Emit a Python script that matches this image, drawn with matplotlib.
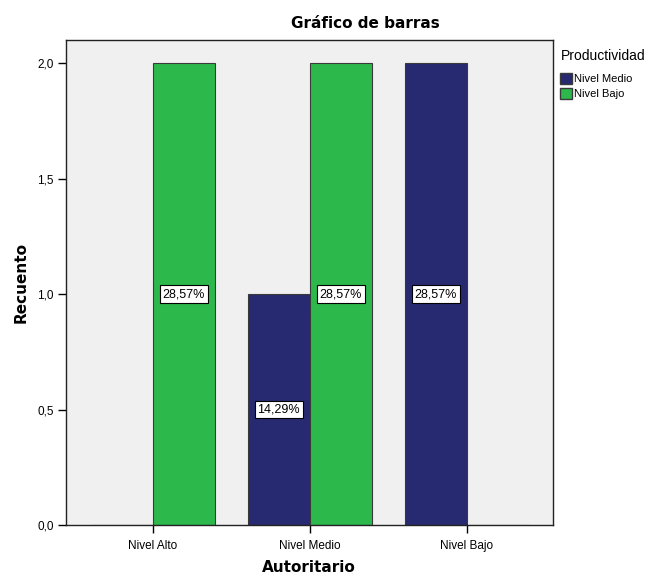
import matplotlib
matplotlib.use("Agg")
import matplotlib.pyplot as plt
import numpy as np
from matplotlib.patches import Patch

categorias = ["Nivel Alto", "Nivel Medio", "Nivel Bajo"]
nivel_medio = [0, 1, 2]
nivel_bajo = [2, 2, 0]
etiq_medio = ["", "14,29%", "28,57%"]
etiq_bajo = ["28,57%", "28,57%", ""]
y_ticks = [0.0, 0.5, 1.0, 1.5, 2.0]

color_medio = "#272a70"
color_bajo = "#2db84c"

plt.rcParams["font.family"] = ["Liberation Sans", "DejaVu Sans"]

fig = plt.figure(figsize=(6.54, 5.77), dpi=100)
ax = fig.add_axes([66 / 654, 52 / 577, 487 / 654, 485 / 577])
ax.set_facecolor("#f0f0f0")

x = np.arange(len(categorias))
w = 0.395
b1 = ax.bar(x - w / 2, nivel_medio, w, color=color_medio, edgecolor="#3a3a3a", linewidth=0.8)
b2 = ax.bar(x + w / 2, nivel_bajo, w, color=color_bajo, edgecolor="#3a3a3a", linewidth=0.8)

caja = dict(boxstyle="square,pad=0.22", facecolor="white", edgecolor="black", linewidth=0.8)
for bars, vals, etiqs in [(b1, nivel_medio, etiq_medio), (b2, nivel_bajo, etiq_bajo)]:
    for rect, v, t in zip(bars, vals, etiqs):
        if v > 0:
            ax.text(rect.get_x() + rect.get_width() / 2, v / 2, t, ha="center", va="center",
                    fontsize=9, bbox=caja)

ax.set_xlim(-0.552, 2.55)
ax.set_ylim(0, 2.1)
ax.set_xticks(x)
ax.set_xticklabels(categorias, fontsize=8.5, va="baseline")
ax.set_yticks(y_ticks)
ax.set_yticklabels([f"{t:.1f}".replace(".", ",") for t in y_ticks], fontsize=8.5)
ax.tick_params(direction="out", length=6, width=1, colors="black", pad=3)
ax.tick_params(axis="x", pad=11)
for s in ax.spines.values():
    s.set_linewidth(1)
    s.set_color("#222222")

# etiquetas de ejes colocadas a mano
fig.text(309 / 654, 1 - 567 / 577, "Autoritario", ha="center", va="center",
         fontsize=11, fontweight="bold", family="DejaVu Sans")
ax.set_ylabel("Recuento", fontsize=11, fontweight="bold", family="DejaVu Sans", labelpad=6)
fig.text(365 / 654, 1 - 23 / 577, "Gráfico de barras", ha="center", va="center",
         fontsize=11, fontweight="bold", family="DejaVu Sans")

handles = [Patch(facecolor=color_medio, edgecolor="#3a3a3a", label="Nivel Medio"),
           Patch(facecolor=color_bajo, edgecolor="#3a3a3a", label="Nivel Bajo")]
leg = fig.legend(handles=handles, title="Productividad", loc="upper left",
                 bbox_to_anchor=(556 / 654, 1 - 45 / 577), frameon=False, fontsize=8,
                 title_fontsize=10, handlelength=1.0, handleheight=1.1, handletextpad=0.2,
                 labelspacing=0.35, borderaxespad=0)
leg._legend_box.align = "left"
leg._legend_box.sep = 7

fig.savefig("out.png", dpi=100)
